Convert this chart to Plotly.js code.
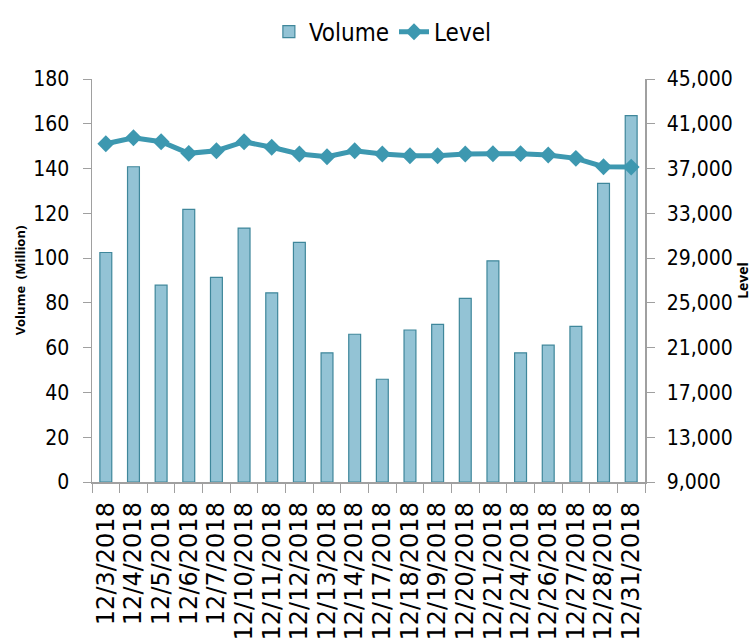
<!DOCTYPE html>
<html>
<head>
<meta charset="utf-8">
<script src="https://cdn.plot.ly/plotly-3.0.1.min.js"></script>
<style>html,body{margin:0;padding:0;background:#fff;}#chart{width:752px;height:641px;}</style>
</head>
<body>
<div id="chart"></div>
<script>
const dates = ["12/3/2018","12/4/2018","12/5/2018","12/6/2018","12/7/2018","12/10/2018","12/11/2018","12/12/2018","12/13/2018","12/14/2018","12/17/2018","12/18/2018","12/19/2018","12/20/2018","12/21/2018","12/24/2018","12/26/2018","12/27/2018","12/28/2018","12/31/2018"];
const volume = [102.5,140.8,87.9,121.8,91.4,113.4,84.5,107.0,57.7,66.0,45.9,67.9,70.4,82.0,98.8,57.7,61.1,69.5,133.4,163.6];
const level = [39217,39754,39396,38359,38591,39396,38900,38300,38055,38590,38300,38145,38145,38300,38320,38330,38208,37912,37161,37130];
const leftTicks = [0,20,40,60,80,100,120,140,160,180];
const rightTicks = [9000,13000,17000,21000,25000,29000,33000,37000,41000,45000];

const narrow = "'Liberation Sans Narrow', 'DejaVu Sans Condensed', 'Liberation Sans', sans-serif";

const traces = [
  {
    type: "bar", name: "Volume", x: dates, y: volume, yaxis: "y",
    width: 0.43,
    marker: {color: "#93C3D5", line: {color: "#3F879B", width: 1.2}}
  },
  {
    type: "scatter", mode: "lines+markers", name: "Level", x: dates, y: level, yaxis: "y2",
    line: {color: "#3D98B0", width: 5},
    marker: {symbol: "diamond", size: 13, color: "#3D98B0"}
  }
];

const layout = {
  width: 752, height: 641,
  margin: {l: 92, r: 107, t: 79, b: 159},
  paper_bgcolor: "#fff", plot_bgcolor: "#fff",
  showlegend: true,
  legend: {orientation: "h", x: 0.526, xanchor: "center", xref: "paper", y: 0.985, yanchor: "top", yref: "container",
           font: {family: narrow, size: 24, color: "#000"}, itemwidth: 30, tracegroupgap: 0},
  bargap: 0.5,
  xaxis: {
    type: "category", tickangle: -90, range: [-0.5, dates.length - 0.5],
    tickmode: "array", tickvals: dates, ticktext: dates,
    tickfont: {family: "'DejaVu Sans', sans-serif", size: 24, color: "#000"},
    ticklabelstandoff: 9,
    showline: true, linecolor: "#A0A0A0", linewidth: 1.5,
    ticks: "outside", ticklen: 9, tickcolor: "#A0A0A0", tickson: "boundaries",
    showgrid: false, zeroline: false, fixedrange: true
  },
  yaxis: {
    range: [0, 180], tickvals: leftTicks,
    tickfont: {family: narrow, size: 21, color: "#000"},
    ticklabelstandoff: 9,
    showline: true, linecolor: "#A0A0A0", linewidth: 1.5,
    ticks: "outside", ticklen: 8, tickcolor: "#A0A0A0",
    showgrid: false, zeroline: false,
    title: {text: "<b>Volume  (Million)</b>", font: {family: "'Open Sans', 'DejaVu Sans', sans-serif", size: 13, color: "#000"}, standoff: 4}
  },
  yaxis2: {
    range: [9000, 45000], tickvals: rightTicks, tickformat: ",",
    overlaying: "y", side: "right",
    tickfont: {family: narrow, size: 21, color: "#000"},
    ticklabelstandoff: 8,
    showline: true, linecolor: "#A0A0A0", linewidth: 1.5,
    ticks: "outside", ticklen: 8, tickcolor: "#A0A0A0",
    showgrid: false, zeroline: false,
    title: {text: "<b>Level</b>", font: {family: "'Open Sans', 'DejaVu Sans', sans-serif", size: 14, color: "#000"}, standoff: 2}
  }
};

Plotly.newPlot("chart", traces, layout, {displayModeBar: false, staticPlot: true});
</script>
</body>
</html>
